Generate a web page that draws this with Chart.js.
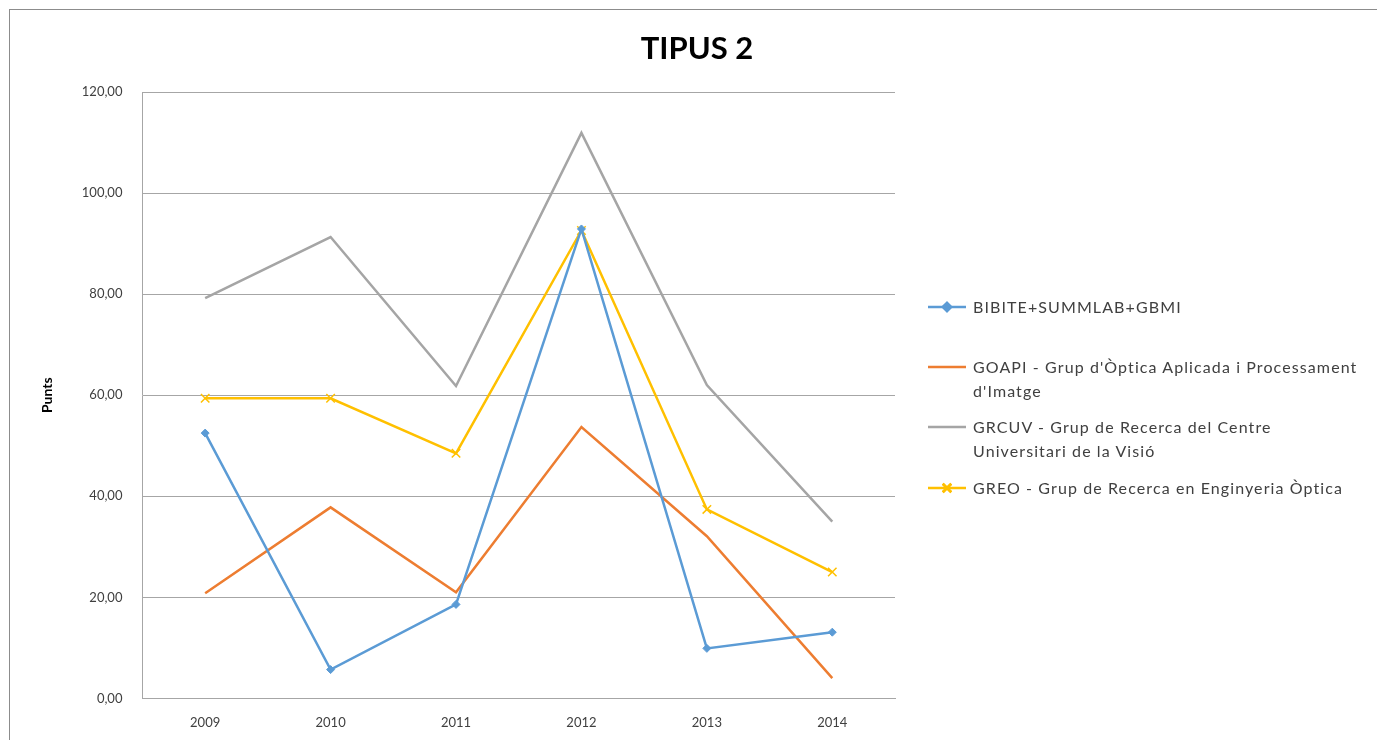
<!DOCTYPE html>
<html>
<head>
<meta charset="utf-8">
<script src="https://cdn.jsdelivr.net/npm/chart.js@4"></script>
<style>
  html, body { margin: 0; padding: 0; background: #fff; overflow: hidden; }
  .frame {
    position: absolute; left: 9px; top: 9px; width: 1380px; height: 740px;
    border: 1px solid #8c8c8c; box-sizing: border-box;
  }
  .wrap { position: absolute; left: 10px; top: 10px; width: 1374px; height: 738px; }
  #title {
    position: absolute; left: 0; width: 1394px; top: 28px; text-align: center;
    font-family: Lato, sans-serif; font-weight: bold; font-size: 31px; color: #000;
    line-height: 38px;
  }
  #legend {
    position: absolute; left: 928px; top: 0; width: 445px;
    font-family: Lato, "Open Sans", sans-serif; font-size: 16px; color: #404040;
  }
  .item { position: absolute; left: 0; display: flex; align-items: flex-start; line-height: 24px; }
  .item canvas { margin-top: 3px; margin-right: 7px; flex: none; }
  .item span { width: 390px; letter-spacing: 1.1px; }
</style>
</head>
<body>
<div class="frame"></div>
<div class="wrap"><canvas id="chart"></canvas></div>
<div id="title">TIPUS 2</div>
<div id="legend"></div>
<script>
const years = ["2009", "2010", "2011", "2012", "2013", "2014"];
const bibite = [52.5, 5.7, 18.6, 92.9, 9.9, 13.1];
const goapi = [20.8, 37.8, 21.0, 53.7, 32.1, 4.0];
const grcuv = [79.2, 91.3, 61.8, 111.9, 62.0, 35.0];
const greo = [59.4, 59.4, 48.5, 92.6, 37.4, 25.0];
const seriesNames = [
  "BIBITE+SUMMLAB+GBMI",
  "GOAPI - Grup d'Òptica Aplicada i Processament d'Imatge",
  "GRCUV - Grup de Recerca del Centre Universitari de la Visió",
  "GREO - Grup de Recerca en Enginyeria Òptica"
];
const legendTops = [295, 355, 415, 476];

function series(label, data, color, style, radius) {
  return {
    label: label,
    data: data,
    borderColor: color,
    backgroundColor: color,
    borderWidth: 2.5,
    tension: 0,
    pointStyle: style,
    pointRadius: radius,
    pointBorderWidth: style === "crossRot" ? 1.5 : 1,
    pointHoverRadius: radius
  };
}

const ctx = document.getElementById("chart");
const chart = new Chart(ctx, {
  type: "line",
  data: {
    labels: years,
    datasets: [
      series(seriesNames[0], bibite, "#5B9BD5", "rectRot", 4),
      series(seriesNames[1], goapi, "#ED7D31", false, 0),
      series(seriesNames[2], grcuv, "#A5A5A5", false, 0),
      series(seriesNames[3], greo, "#FFC000", "crossRot", 6)
    ]
  },
  options: {
    responsive: true,
    maintainAspectRatio: false,
    animation: false,
    layout: { padding: { left: 25, right: 489, top: 82, bottom: 0 } },
    plugins: {
      legend: { display: false },
      tooltip: { enabled: false }
    },
    scales: {
      x: {
        offset: true,
        grid: { display: false, drawTicks: false },
        border: { display: true, color: "#a6a6a6", width: 1 },
        ticks: {
          color: "#404040",
          font: { family: "Lato, sans-serif", size: 13 },
          padding: 17
        }
      },
      y: {
        min: 0,
        max: 120,
        title: {
          display: true,
          text: "Punts",
          color: "#000",
          font: { family: "Lato, sans-serif", size: 14, weight: "bold" },
          padding: { bottom: 6 }
        },
        grid: { color: "#a6a6a6", drawTicks: false },
        border: { display: true, color: "#a6a6a6", width: 1 },
        ticks: {
          stepSize: 20,
          color: "#404040",
          font: { family: "Lato, sans-serif", size: 13 },
          padding: 20,
          callback: function (value) {
            return value.toFixed(2).replace(".", ",");
          }
        }
      }
    }
  }
});

// html legend so long names can wrap like the original
const legend = document.getElementById("legend");
chart.data.datasets.forEach(function (ds, i) {
  const item = document.createElement("div");
  item.className = "item";
  item.style.top = legendTops[i] + "px";
  const sw = document.createElement("canvas");
  sw.width = 38; sw.height = 18;
  const c = sw.getContext("2d");
  c.strokeStyle = ds.borderColor;
  c.lineWidth = 2.5;
  c.beginPath(); c.moveTo(0, 9); c.lineTo(38, 9); c.stroke();
  if (ds.pointStyle) {
    Chart.helpers.drawPoint(c, {
      pointStyle: ds.pointStyle, radius: ds.pointRadius, borderWidth: ds.pointBorderWidth
    }, 19, 9);
    c.fillStyle = ds.borderColor;
    c.fill();
    c.stroke();
  }
  item.appendChild(sw);
  const txt = document.createElement("span");
  txt.textContent = ds.label;
  item.appendChild(txt);
  legend.appendChild(item);
});
</script>
</body>
</html>
